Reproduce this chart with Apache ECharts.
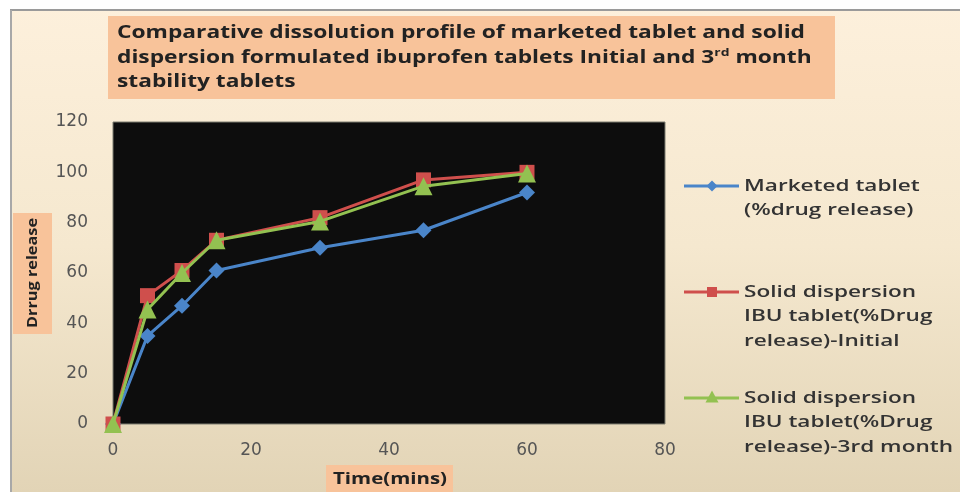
<!DOCTYPE html>
<html>
<head>
<meta charset="utf-8">
<script src="https://cdn.jsdelivr.net/npm/echarts@6/dist/echarts.min.js"></script>
<style>
  html, body { margin: 0; padding: 0; background: #fff; }
  #chart { width: 960px; height: 492px; }
</style>
</head>
<body>
<div id="chart"></div>
<script>
// Sampling times (minutes)
const times = [0, 5, 10, 15, 30, 45, 60];

// Cumulative % drug release
const marketed = [0, 35, 47, 61, 70, 77, 92];
const sdInitial = [0, 51, 61, 73, 82, 97, 100];
const sd3rdMonth = [0, 45.5, 60, 73, 80.5, 94.5, 99.5];

const seriesNames = [
  'Marketed tablet\n(%drug release)',
  'Solid dispersion\nIBU tablet(%Drug\nrelease)-Initial',
  'Solid dispersion\nIBU tablet(%Drug\nrelease)-3rd month'
];

const titleLines = [
  'Comparative dissolution profile of marketed tablet and solid',
  'dispersion formulated ibuprofen tablets Initial and 3{sup|rd} month',
  'stability tablets'
];
const xAxisTitle = 'Time(mins)';
const yAxisTitle = 'Drrug release';

const colors = ['#4a85c9', '#cf4f4c', '#93c151'];
const symbols = ['diamond', 'rect', 'triangle'];
const symbolSizes = [16, 15, 18];

const values = [marketed, sdInitial, sd3rdMonth];
const pairs = arr => times.map((t, i) => [t, arr[i]]);

const font = '"Open Sans", "DejaVu Sans", sans-serif';
const tickFont = '"DejaVu Sans", sans-serif';

// Horizontal stretch factor so a string set in `f` spans `target` px
const measureCtx = document.createElement('canvas').getContext('2d');
function stretch(text, f, target) {
  measureCtx.font = f;
  return target / measureCtx.measureText(text).width;
}

const titleFont = 'bold 18px ' + font;
const titleScale = stretch(titleLines[0], titleFont, 688);
const legendFont = '600 17px ' + font;
const legendScale = stretch('release)-3rd month', legendFont, 209);
const yTitleFont = 'bold 15px ' + font;
const yTitleScale = stretch(yAxisTitle, yTitleFont, 110);
const xTitleFont = 'bold 16px ' + font;
const xTitleScale = stretch(xAxisTitle, xTitleFont, 114);

const chart = echarts.init(document.getElementById('chart'), null, { renderer: 'canvas' });

// Legend: line + marker beside the first line of each entry
const legendCenters = [186, 292, 398];
const legendLH = 24.5;
const legendGraphics = [];
seriesNames.forEach((name, i) => {
  const y = legendCenters[i];
  legendGraphics.push({
    type: 'line', z: 10, shape: { x1: 684, y1: y, x2: 739, y2: y },
    style: { stroke: colors[i], lineWidth: 3 }
  });
  legendGraphics.push({
    type: 'text', z: 10, x: 744, y: y - legendLH / 2, scaleX: legendScale,
    style: { text: name, fill: '#333', font: legendFont, lineHeight: legendLH, verticalAlign: 'top' }
  });
  const s = [11, 10, 13][i];
  const cx = 712;
  if (i === 0) {
    legendGraphics.push({ type: 'polygon', z: 11, shape: { points: [[cx, y - s / 2], [cx + s / 2, y], [cx, y + s / 2], [cx - s / 2, y]] }, style: { fill: colors[i] } });
  } else if (i === 1) {
    legendGraphics.push({ type: 'rect', z: 11, shape: { x: cx - s / 2, y: y - s / 2, width: s, height: s }, style: { fill: colors[i] } });
  } else {
    legendGraphics.push({ type: 'polygon', z: 11, shape: { points: [[cx, y - s / 2 - 1], [cx + s / 2, y + s / 2 - 2], [cx - s / 2, y + s / 2 - 2]] }, style: { fill: colors[i] } });
  }
});

const option = {
  animation: false,
  grid: {
    left: 113, top: 122, right: 295, bottom: 68,
    show: true, backgroundColor: '#0d0d0d', borderColor: '#7d7d70', borderWidth: 1
  },
  xAxis: {
    type: 'value', min: 0, max: 80, interval: 20,
    axisLine: { show: false }, axisTick: { show: false }, splitLine: { show: false },
    axisLabel: { color: '#555', fontSize: 17, fontFamily: tickFont, margin: 18 }
  },
  yAxis: {
    type: 'value', min: 0, max: 120, interval: 20,
    axisLine: { show: false }, axisTick: { show: false }, splitLine: { show: false },
    axisLabel: { color: '#555', fontSize: 17, fontFamily: tickFont, margin: 25 }
  },
  series: values.map((v, i) => ({
    name: seriesNames[i],
    type: 'line',
    data: pairs(v),
    symbol: symbols[i],
    symbolSize: symbolSizes[i],
    lineStyle: { width: 3, color: colors[i] },
    itemStyle: { color: colors[i] },
    z: 3 + i
  })),
  graphic: [
    {
      type: 'rect', z: -10, shape: { x: 0, y: 0, width: 960, height: 492 },
      style: {
        fill: new echarts.graphic.LinearGradient(0, 0, 0, 1, [
          { offset: 0, color: '#fdf0dc' },
          { offset: 0.5, color: '#f5e8cf' },
          { offset: 1, color: '#e2d4b6' }
        ])
      }
    },
    { type: 'rect', z: -9, shape: { x: 0, y: 0, width: 960, height: 9 }, style: { fill: '#ffffff' } },
    { type: 'rect', z: -9, shape: { x: 0, y: 0, width: 10, height: 492 }, style: { fill: '#ffffff' } },
    { type: 'line', z: -8, shape: { x1: 10, y1: 10, x2: 960, y2: 10 }, style: { stroke: '#9a9a9a', lineWidth: 2 } },
    { type: 'line', z: -8, shape: { x1: 11, y1: 10, x2: 11, y2: 492 }, style: { stroke: '#a8a8a8', lineWidth: 2 } },
    // Title box
    { type: 'rect', z: 1, shape: { x: 108, y: 16, width: 727, height: 83 }, style: { fill: '#f8c39a' } },
    {
      type: 'text', z: 2, x: 117, y: 33 - 12.25, scaleX: titleScale,
      style: {
        text: titleLines.join('\n'),
        rich: { sup: { fontSize: 11, fontWeight: 'bold', fill: '#222', fontFamily: font, padding: [0, 0, 9, 0] } },
        fill: '#222', font: titleFont, lineHeight: 24.5, verticalAlign: 'top'
      }
    },
    // Y-axis title
    { type: 'rect', z: 1, shape: { x: 13, y: 213, width: 39, height: 121 }, style: { fill: '#f8c39a' } },
    {
      type: 'text', z: 2, x: 33, y: 273, rotation: Math.PI / 2, scaleX: yTitleScale,
      style: { text: yAxisTitle, fill: '#222', font: yTitleFont, align: 'center', verticalAlign: 'middle' }
    },
    // X-axis title
    { type: 'rect', z: 1, shape: { x: 326, y: 465, width: 127, height: 27 }, style: { fill: '#f8c39a' } },
    {
      type: 'text', z: 2, x: 390, y: 479, scaleX: xTitleScale,
      style: { text: xAxisTitle, fill: '#222', font: xTitleFont, align: 'center', verticalAlign: 'middle' }
    }
  ].concat(legendGraphics)
};

chart.setOption(option);
</script>
</body>
</html>
